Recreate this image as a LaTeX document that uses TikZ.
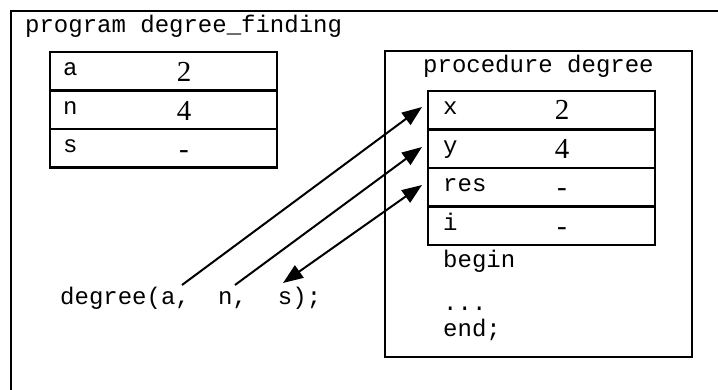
\documentclass[tikz,border=0pt]{standalone}
\usepackage{fontspec}
\newfontfamily\monof{Liberation Mono}
\newfontfamily\numf{Liberation Serif}
\usetikzlibrary{arrows.meta}
\begin{document}
\begin{tikzpicture}[x=1pt,y=-1pt,
  frame/.style={line width=2.6pt},
  cellbox/.style={draw,line width=2.3pt,minimum width=227pt,minimum height=38.5pt,inner sep=0pt,anchor=north west},
  code/.style={font=\monof\fontsize{24}{28}\selectfont,inner sep=0pt,anchor=base west},
  val/.style={font=\numf\fontsize{29}{32}\selectfont,inner sep=0pt,anchor=base},
  arr/.style={line width=2pt,-{Triangle[length=20pt,width=15pt]}},
  darr/.style={line width=2pt,{Triangle[length=20pt,width=15pt]}-{Triangle[length=20pt,width=15pt]}}]
\useasboundingbox (0,0) rectangle (718,390);
% outer program frame (right and bottom sides lie outside the picture)
\draw[frame] (11,390) -- (11,11) -- (718,11);
\node[code] (prog) at (25,33) {program degree\_finding};
% left variable table
\node[cellbox] (ca) at (49,51) {};
\node[cellbox] (cn) at (49,89.5) {};
\node[cellbox] (cs) at (49,128) {};
\node[code] (la) at (63,76) {a};
\node[code] (ln) at (63,114.5) {n};
\node[code] (ls) at (63,153) {s};
\node[val] (va) at (184,82) {2};
\node[val] (vn) at (184,120.5) {4};
\node[val] (vs) at (184,159) {-};
% procedure frame
\draw[frame] (385,51) rectangle (692,357);
\node[code] (proc) at (423,73) {procedure degree};
\node[cellbox] (cx) at (427,90) {};
\node[cellbox] (cy) at (427,128.5) {};
\node[cellbox] (cr) at (427,167) {};
\node[cellbox] (ci) at (427,205.5) {};
\node[code] (lx) at (443,115) {x};
\node[code] (ly) at (443,153.5) {y};
\node[code] (lr) at (443,192) {res};
\node[code] (li) at (443,230.5) {i};
\node[val] (vx) at (562,120) {2};
\node[val] (vy) at (562,158.5) {4};
\node[val] (vr) at (562,197) {-};
\node[val] (vi) at (562,235.5) {-};
\node[code] (beg) at (443,268) {begin};
\node[code] (dots) at (443,311) {...};
\node[code] (endn) at (443,337) {end;};
% call
\node[code] (call) at (60,305) {degree(a,\hspace*{28.4pt}n,\hspace*{31pt}s);};
\coordinate (pa) at (182,285);
\coordinate (pn) at (235,285);
\coordinate (ps) at (283,283);
\coordinate (tx) at (422,107);
\coordinate (ty) at (422,147);
\coordinate (tr) at (422,185);
\draw[arr] (pa) -- (tx);
\draw[arr] (pn) -- (ty);
\draw[darr] (ps) -- (tr);
\end{tikzpicture}
\end{document}
